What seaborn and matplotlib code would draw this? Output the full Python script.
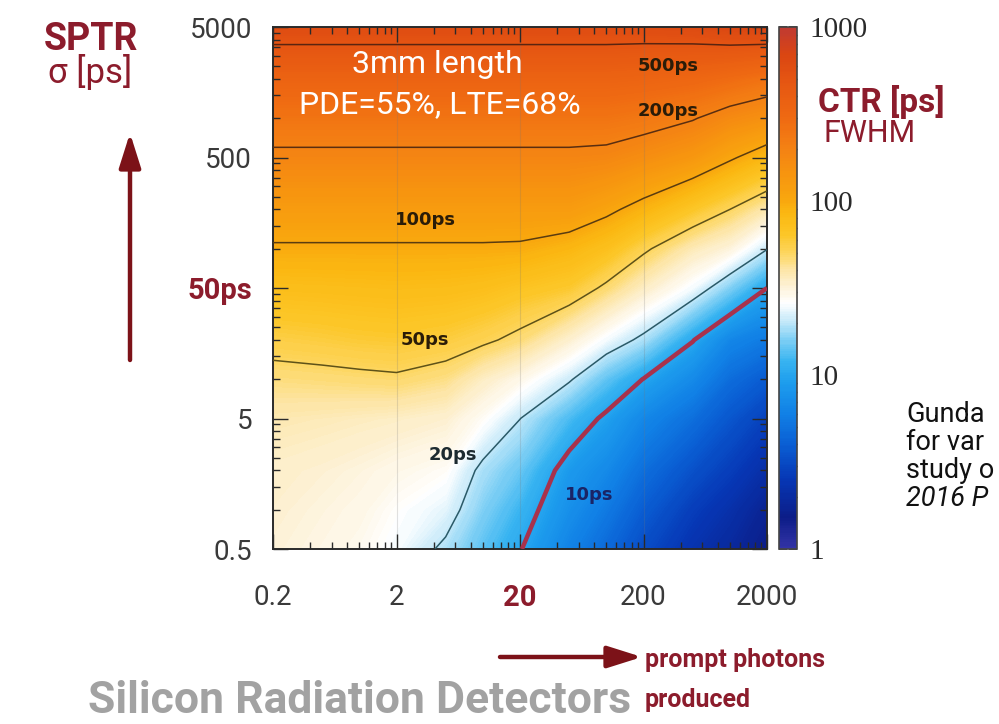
import numpy as np
import pandas as pd
import matplotlib
matplotlib.use("Agg")
import matplotlib.pyplot as plt
import seaborn as sns
from matplotlib.colors import LinearSegmentedColormap
from matplotlib.ticker import FixedLocator, NullFormatter

# ---- data -------------------------------------------------------------
# number of prompt photons produced (columns) and SPTR sigma in ps (rows)
photons = [0.2, 0.5, 1, 2, 5, 10, 20, 50, 100, 200, 500, 1000, 2000]
sptr = [0.5, 1, 2, 5, 10, 20, 50, 100, 200, 500, 1000, 2000, 5000]

# CTR FWHM [ps] along the SPTR rows, one list per photon count
ctr_n0p2 = [32, 33, 34, 38, 45, 56, 75, 96, 125, 185, 250, 350, 600]
ctr_n0p5 = [30, 31, 32.5, 37, 46, 58, 76, 96, 125, 185, 250, 350, 600]
ctr_n1 = [28, 29.5, 31, 36, 47, 60, 77, 96, 125, 185, 250, 350, 600]
ctr_n2 = [25, 26.5, 29, 35, 48, 61, 78, 96, 125, 185, 250, 350, 600]
ctr_n5 = [18.8, 23, 27, 33, 44, 58, 77, 96, 125, 185, 250, 350, 600]
ctr_n10 = [13.8, 16, 18.5, 27, 35, 53, 74, 96, 125, 185, 250, 350, 600]
ctr_n20 = [10.2, 12, 14.5, 20.1, 29, 46, 68, 95, 125, 185, 250, 350, 600]
ctr_n50 = [6.2, 7.4, 8.6, 12.8, 20.8, 33, 61.5, 85, 125, 185, 250, 350, 600]
ctr_n100 = [4.5, 5.5, 6.8, 9.3, 14, 24.5, 47, 72, 108, 180, 250, 350, 600]
ctr_n200 = [3.2, 3.9, 4.8, 6.6, 9.9, 18.5, 35, 53, 88, 160, 235, 340, 600]
ctr_n500 = [2.3, 2.7, 3.4, 4.8, 6.8, 10.2, 24.5, 37, 64, 135, 205, 320, 620]
ctr_n1000 = [1.9, 2.2, 2.7, 3.6, 4.7, 6.5, 15.8, 31, 50, 105, 170, 290, 670]
ctr_n2000 = [1.5, 1.7, 2.1, 2.8, 3.8, 5.5, 10, 20.3, 38, 82, 150, 255, 700]

# iso-CTR contour levels [ps] and their labels
ctr_levels = [10, 20, 50, 100, 200, 500]
ctr_level_labels = ["10ps", "20ps", "50ps", "100ps", "200ps", "500ps"]

x_ticks = [0.2, 2, 20, 200, 2000]
x_tick_labels = ["0.2", "2", "20", "200", "2000"]
y_ticks = [0.5, 5, 50, 500, 5000]
y_tick_labels = ["0.5", "5", "50ps", "500", "5000"]
cbar_ticks = [1, 10, 100, 1000]
cbar_tick_labels = ["1", "10", "100", "1000"]

# ---- style --------------------------------------------------------------
sns.set_theme(style="ticks")
plt.rcParams["font.family"] = ["Roboto", "DejaVu Sans"]

DARK_RED = "#8c1c2c"
ARROW_RED = "#7c1218"
TICK_GREY = "#3a3a3a"

W, H = 999, 724


def fig_xy(px, py):
    return px / W, 1 - py / H


ctr = pd.DataFrame(
    np.column_stack([ctr_n0p2, ctr_n0p5, ctr_n1, ctr_n2, ctr_n5, ctr_n10, ctr_n20,
                     ctr_n50, ctr_n100, ctr_n200, ctr_n500, ctr_n1000, ctr_n2000]),
    index=sptr, columns=photons)

lx = np.log10(ctr.columns.to_numpy(dtype=float))
ly = np.log10(ctr.index.to_numpy(dtype=float))
lz = np.log10(ctr.to_numpy())

# CTR colour scale: blue (fast) -> white -> yellow -> orange/red (slow)
stops = [
    (1, "#3333a6"), (1.5, "#0c1d88"), (2.5, "#0637b5"), (4, "#0a5fd4"),
    (6, "#1181e6"), (9, "#1d9ded"), (12, "#38b4f1"), (16, "#80d0f5"),
    (21, "#cdecfa"), (26, "#ffffff"), (32, "#fdf2d8"), (40, "#fde6a8"),
    (50, "#fdd660"), (65, "#fcc626"), (85, "#fbb812"), (100, "#f9a80e"),
    (140, "#f7960f"), (200, "#f48213"), (300, "#ef6a12"), (500, "#e55512"),
    (700, "#da4612"), (1000, "#c03a32"),
]
cmap = LinearSegmentedColormap.from_list(
    "ctr", [(np.log10(v) / 3.0, c) for v, c in stops])

fig = plt.figure(figsize=(W / 100, H / 100), dpi=100)
fig.patch.set_facecolor("white")
ax = fig.add_axes([273 / W, 1 - 549 / H, 494 / W, 522 / H])
cax = fig.add_axes([779 / W, 1 - 549 / H, 18 / W, 522 / H])

fill = ax.contourf(lx, ly, lz, levels=np.linspace(0, 3, 301), cmap=cmap,
                   vmin=0, vmax=3, zorder=0)
fill.set_edgecolor("face")
fill.set_linewidth(0.4)

line_colors = ["#a8324c", "#2a5a68", "#5e5218", "#5a3c10", "#5a2e10", "#5a2410"]
line_widths = [3.2, 1.1, 1.1, 1.1, 1.1, 1.1]
ax.contour(lx, ly, lz, levels=np.log10(ctr_levels), colors=line_colors,
           linewidths=line_widths, zorder=3)

# contour labels
label_pos = {
    "500ps": (2.50, 3.40), "200ps": (2.50, 3.055), "100ps": (0.535, 2.22),
    "50ps": (0.527, 1.30), "20ps": (0.76, 0.42), "10ps": (1.86, 0.113),
}
label_col = {"10ps": "#1a2466", "20ps": "#1c2a30"}
for lab in ctr_level_labels:
    px, py = label_pos[lab]
    ax.text(px, py, lab, ha="center", va="center", fontsize=13,
            fontweight="bold", color=label_col.get(lab, "#2a1c08"),
            family=["DejaVu Sans"], zorder=4)

ax.text(0.332, 0.929, "3mm length", transform=ax.transAxes, ha="center",
        va="center", color="white", fontsize=23, zorder=4)
ax.text(0.338, 0.851, "PDE=55%, LTE=68%", transform=ax.transAxes,
        ha="center", va="center", color="white", fontsize=23, zorder=4)

# axes, log-decade ticks
ax.set_xlim(np.log10(0.2), np.log10(2000))
ax.set_ylim(np.log10(0.5), np.log10(5000))
ax.set_xticks(np.log10(x_ticks))
ax.set_xticklabels(x_tick_labels)
ax.set_yticks(np.log10(y_ticks))
ax.set_yticklabels(y_tick_labels)
x_minor = [b * k for b in x_ticks[:-1] for k in range(2, 10)]
y_minor = [b * k for b in y_ticks[:-1] for k in range(2, 10)]
ax.xaxis.set_minor_locator(FixedLocator(np.log10(x_minor)))
ax.yaxis.set_minor_locator(FixedLocator(np.log10(y_minor)))
ax.xaxis.set_minor_formatter(NullFormatter())
ax.yaxis.set_minor_formatter(NullFormatter())
ax.tick_params(which="both", direction="in", top=True, right=True,
               colors="#2a2a2a", width=1.0)
ax.tick_params(which="major", length=11)
ax.tick_params(which="minor", length=5)
ax.tick_params(axis="x", which="major", pad=25, labelsize=20, labelcolor=TICK_GREY)
ax.tick_params(axis="y", which="major", pad=15, labelsize=20, labelcolor=TICK_GREY)
for t in ax.get_xticklabels():
    if t.get_text() == "20":
        t.set_color(DARK_RED)
        t.set_fontweight("bold")
        t.set_fontsize(21)
for t in ax.get_yticklabels():
    if t.get_text() == "50ps":
        t.set_color(DARK_RED)
        t.set_fontweight("bold")
        t.set_fontsize(21)
ax.grid(axis="x", which="major", color="#777777", alpha=0.22, lw=0.8)
ax.grid(axis="y", visible=False)
for s in ax.spines.values():
    s.set_color("#2a2a2a")
    s.set_linewidth(1.4)

# colour bar
cb = fig.colorbar(fill, cax=cax)
cb.outline.set_edgecolor("#444444")
cb.outline.set_linewidth(1.2)
cax.set_yticks(np.log10(cbar_ticks))
cax.set_yticklabels(cbar_tick_labels)
cb_minor = [b * k for b in cbar_ticks[:-1] for k in range(2, 10)]
cax.yaxis.set_minor_locator(FixedLocator(np.log10(cb_minor)))
cax.yaxis.set_minor_formatter(NullFormatter())
cax.tick_params(which="both", direction="in", left=True, right=True,
                colors="#333333", labelleft=False, labelright=True)
cax.tick_params(which="major", length=6, pad=9, labelsize=21,
                labelcolor="#2a2a2a")
cax.tick_params(which="minor", length=3)
for t in cax.get_yticklabels():
    t.set_family(["Liberation Serif", "DejaVu Serif"])

# annotations around the plot
fig.text(*fig_xy(91, 39), "SPTR", ha="center", va="center", fontsize=27,
         fontweight="bold", color=DARK_RED)
fig.text(*fig_xy(90, 72), "σ [ps]", ha="center", va="center", fontsize=25,
         color=DARK_RED)
fig.text(*fig_xy(818, 102), "CTR [ps]", ha="left", va="center", fontsize=24,
         fontweight="bold", color=DARK_RED)
fig.text(*fig_xy(824, 134), "FWHM", ha="left", va="center", fontsize=22,
         color=DARK_RED)
fig.text(*fig_xy(645, 660), "prompt photons", ha="left", va="center",
         fontsize=18, fontweight="bold", color=DARK_RED)
fig.text(*fig_xy(645, 700), "produced", ha="left", va="center",
         fontsize=18, fontweight="bold", color=DARK_RED)
fig.text(*fig_xy(88, 701), "Silicon Radiation Detectors", ha="left",
         va="center", fontsize=32, fontweight="bold", color="#a2a2a2")

ref_lines = ["Gunda", "for var", "study o"]
for i, s in enumerate(ref_lines):
    fig.text(*fig_xy(906, 414 + 28.5 * i), s, ha="left", va="center",
             fontsize=19.5, color="#111111")
fig.text(*fig_xy(906, 414 + 28.5 * 3), "2016 P", ha="left",
         va="center", fontsize=19.5, style="italic", color="#111111")

arrow_kw = dict(arrowstyle="-|>,head_length=0.95,head_width=0.3",
                color=ARROW_RED, lw=3.2, mutation_scale=22, shrinkA=0, shrinkB=0)
ax.annotate("", xy=(130, H - 133), xytext=(130, H - 360),
            xycoords="figure pixels", textcoords="figure pixels",
            arrowprops=arrow_kw, annotation_clip=False)
ax.annotate("", xy=(642, H - 657), xytext=(500, H - 657),
            xycoords="figure pixels", textcoords="figure pixels",
            arrowprops=arrow_kw, annotation_clip=False)

fig.savefig("out.png", dpi=100, facecolor="white")
